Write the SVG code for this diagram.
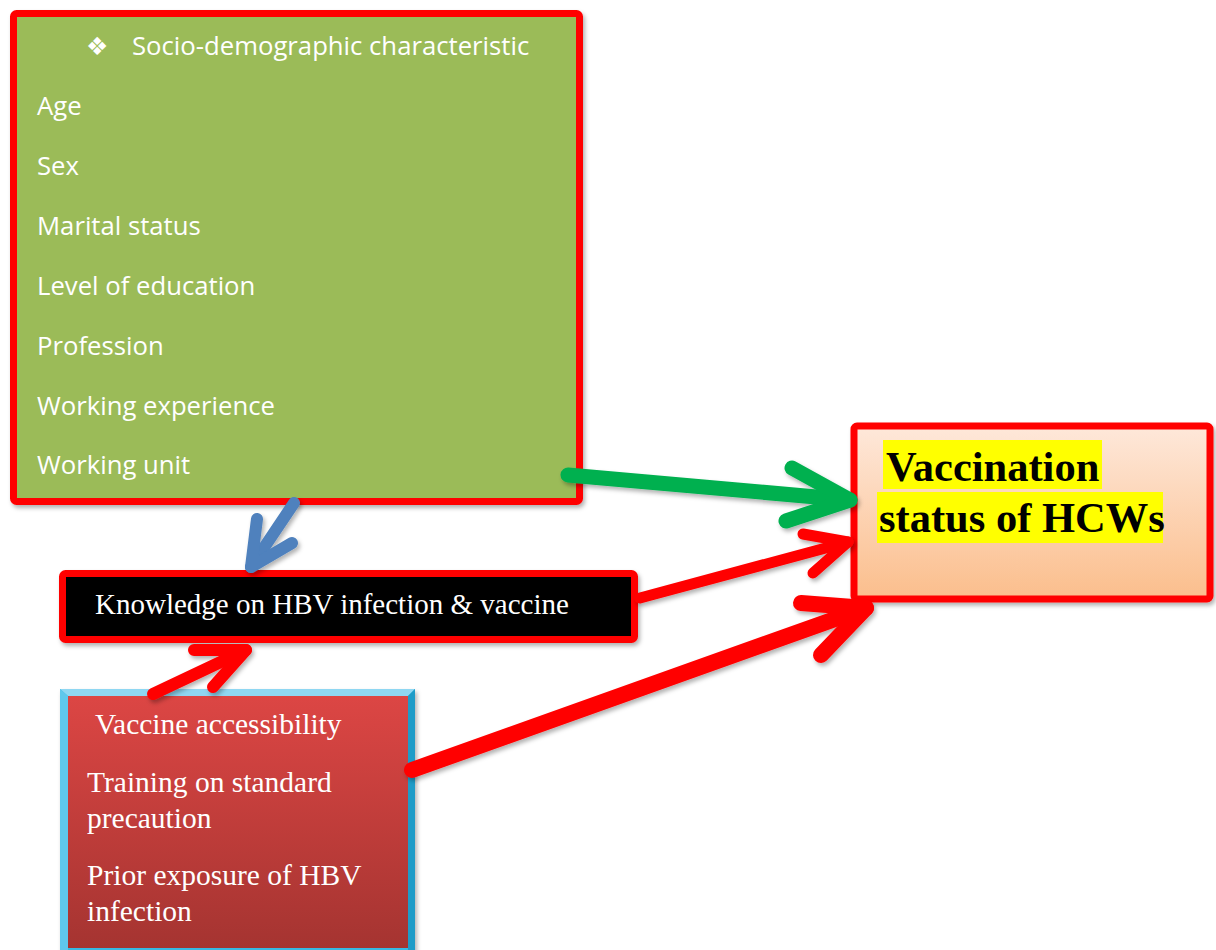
<svg xmlns="http://www.w3.org/2000/svg" width="1216" height="950" viewBox="0 0 1216 950">
<defs>
  <linearGradient id="peach" x1="0" y1="0" x2="0" y2="1">
    <stop offset="0" stop-color="#FEE8DA"/>
    <stop offset="1" stop-color="#FBBE8C"/>
  </linearGradient>
  <linearGradient id="redfill" x1="0" y1="0" x2="0" y2="1">
    <stop offset="0" stop-color="#DC4644"/>
    <stop offset="1" stop-color="#A53431"/>
  </linearGradient>
  <filter id="sh" x="-10%" y="-10%" width="130%" height="130%">
    <feDropShadow dx="2" dy="3" stdDeviation="2" flood-color="#000" flood-opacity="0.3"/>
  </filter>
</defs>
<style>
  .sans { font-family: "Open Sans", "Liberation Sans", sans-serif; fill: #FFFFFF; font-size: 25.7px; }
  .serif { font-family: "Liberation Serif", "Times New Roman", serif; fill: #FFFFFF; }
  .arr { fill: none; stroke-linecap: round; stroke-linejoin: round; }
</style>
<rect width="1216" height="950" fill="#FFFFFF"/>

<g id="socio">
  <rect x="13.5" y="13.5" width="566" height="488" rx="3" fill="#9BBB59" stroke="#FF0000" stroke-width="7" filter="url(#sh)"/>
  <text x="86" y="55" font-family="DejaVu Sans, sans-serif" font-size="25" fill="#FFFFFF">❖</text>
  <text class="sans" x="132" y="55">Socio-demographic characteristic</text>
  <text class="sans" x="37" y="115">Age</text>
  <text class="sans" x="37" y="175">Sex</text>
  <text class="sans" x="37" y="235">Marital status</text>
  <text class="sans" x="37" y="295">Level of education</text>
  <text class="sans" x="37" y="355">Profession</text>
  <text class="sans" x="37" y="415">Working experience</text>
  <text class="sans" x="37" y="474">Working unit</text>
</g>

<g id="vaccination">
  <rect x="854" y="426" width="356" height="173" rx="3" fill="url(#peach)" stroke="#FF0000" stroke-width="7" filter="url(#sh)"/>
  <rect x="883" y="440" width="219" height="49" fill="#FFFF00"/>
  <rect x="877" y="492" width="286" height="51" fill="#FFFF00"/>
  <text class="serif" x="886" y="481" font-size="42.5" font-weight="bold" style="fill:#000000">Vaccination</text>
  <text class="serif" x="879" y="532" font-size="42.5" font-weight="bold" style="fill:#000000">status of HCWs</text>
</g>

<g id="knowledge">
  <rect x="62.5" y="573.5" width="572" height="66" rx="3" fill="#000000" stroke="#FF0000" stroke-width="7" filter="url(#sh)"/>
  <text class="serif" x="95" y="614" font-size="29">Knowledge on HBV infection &amp; vaccine</text>
</g>

<g id="access">
  <rect x="60" y="689" width="355" height="265" fill="#38B9E4" filter="url(#sh)"/>
  <path d="M60 689 L415 689 L408 696 L68 696 Z" fill="#8FD7F2"/>
  <path d="M60 689 L68 696 L68 954 L60 954 Z" fill="#5FC8EC"/>
  <path d="M415 689 L408 696 L408 954 L415 954 Z" fill="#1E9CC8"/>
  <rect x="68" y="696" width="340" height="252" fill="url(#redfill)"/>
  <text class="serif" x="95" y="734" font-size="29.5">Vaccine accessibility</text>
  <text class="serif" x="87" y="792" font-size="29.5">Training on standard</text>
  <text class="serif" x="87" y="828" font-size="29.5">precaution</text>
  <text class="serif" x="87" y="885" font-size="29.5">Prior exposure of HBV</text>
  <text class="serif" x="87" y="921" font-size="29.5">infection</text>
</g>

<g id="connectors" filter="url(#sh)">
  <g stroke="#00B050" stroke-width="15" class="arr">
    <path d="M568 475 L850 500"/>
    <path d="M792 468 L850 500 L786 521"/>
  </g>
  <g stroke="#4F81BD" stroke-width="12" class="arr">
    <path d="M294 503 L251 567"/>
    <path d="M257 519 L251 567 L292 543"/>
  </g>
  <g stroke="#FF0000" stroke-width="12" class="arr">
    <path d="M153 694 L246 650"/>
    <path d="M194 650 L246 650 L213 687"/>
  </g>
  <g stroke="#FF0000" stroke-width="11" class="arr">
    <path d="M640 598 L848 542"/>
    <path d="M803 534 L848 542 L813 573"/>
  </g>
  <g stroke="#FF0000" stroke-width="16" class="arr">
    <path d="M412 770 L866 608"/>
    <path d="M801 603 L866 608 L821 655"/>
  </g>
</g>
</svg>
